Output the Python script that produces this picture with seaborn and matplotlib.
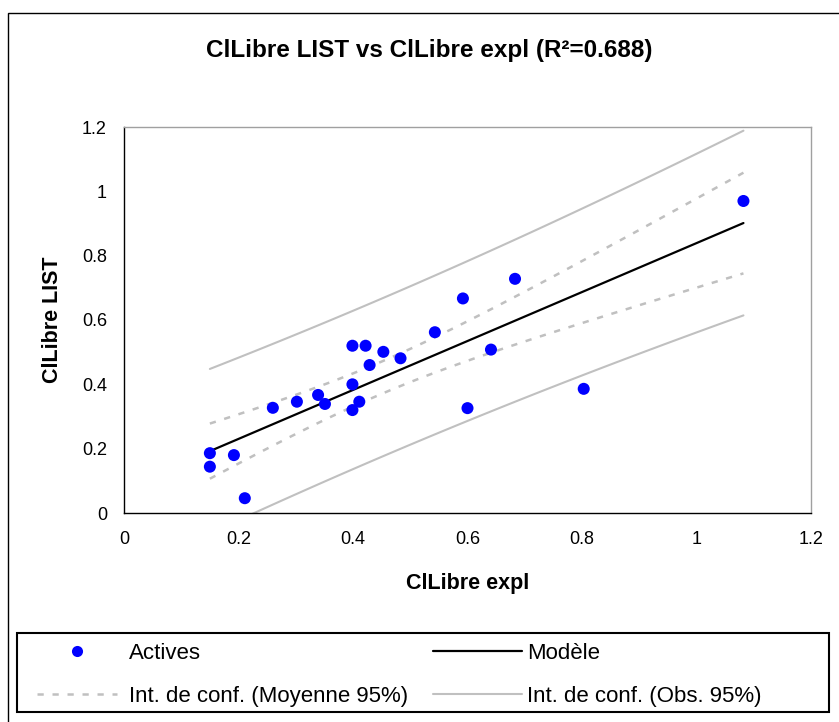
import numpy as np
import pandas as pd
import matplotlib
matplotlib.use("Agg")
import matplotlib.pyplot as plt
from matplotlib.lines import Line2D
from matplotlib.patches import Rectangle
import seaborn as sns

# ---- data ----
cl_expl = [0.150, 0.150, 0.192, 0.211, 0.260, 0.302, 0.339, 0.351, 0.399, 0.422,
           0.453, 0.429, 0.483, 0.399, 0.411, 0.399, 0.543, 0.592, 0.683, 0.641,
           0.600, 0.803, 1.082]
cl_list = [0.186, 0.144, 0.180, 0.046, 0.327, 0.346, 0.367, 0.339, 0.520, 0.520,
           0.501, 0.460, 0.481, 0.400, 0.346, 0.320, 0.562, 0.667, 0.728, 0.508,
           0.326, 0.386, 0.970]
tick_vals = [0, 0.2, 0.4, 0.6, 0.8, 1.0, 1.2]
tick_labels = ["0", "0.2", "0.4", "0.6", "0.8", "1", "1.2"]
title = "ClLibre LIST vs ClLibre expl (R²=0.688)"
xlabel = "ClLibre expl"
ylabel = "ClLibre LIST"
legend_labels = ["Actives", "Modèle", "Int. de conf. (Moyenne 95%)", "Int. de conf. (Obs. 95%)"]
t_crit = 2.0796  # Student t, 0.975, df=21

# ---- regression ----
x = np.array(cl_expl)
y = np.array(cl_list)
n = len(x)
b1, b0 = np.polyfit(x, y, 1)
resid = y - (b0 + b1 * x)
s = np.sqrt(np.sum(resid ** 2) / (n - 2))
sxx = np.sum((x - x.mean()) ** 2)
xg = np.linspace(x.min(), x.max(), 60)
yg = b0 + b1 * xg
se_mean = s * np.sqrt(1 / n + (xg - x.mean()) ** 2 / sxx)
se_obs = s * np.sqrt(1 + 1 / n + (xg - x.mean()) ** 2 / sxx)
fit = pd.DataFrame({"x": xg, "fit": yg,
                    "m_lo": yg - t_crit * se_mean, "m_hi": yg + t_crit * se_mean,
                    "o_lo": yg - t_crit * se_obs, "o_hi": yg + t_crit * se_obs})
pts = pd.DataFrame({"x": x, "y": y})

# ---- figure ----
sns.set_style("white")
plt.rcParams["font.family"] = ["Liberation Sans", "DejaVu Sans"]
plt.rcParams["text.color"] = "black"
plt.rcParams["axes.labelcolor"] = "black"
W, H = 839, 722
fig = plt.figure(figsize=(W / 100, H / 100), dpi=100)
ax = fig.add_axes([124 / W, 1 - 513 / H, 687 / W, 386 / H])

gray = "#c0c0c0"
dash = (0, (2.5, 3.5))
sns.lineplot(data=fit, x="x", y="o_hi", ax=ax, color=gray, lw=1.5, estimator=None)
sns.lineplot(data=fit, x="x", y="o_lo", ax=ax, color=gray, lw=1.5, estimator=None)
sns.lineplot(data=fit, x="x", y="m_hi", ax=ax, color=gray, lw=1.8, ls=dash, estimator=None)
sns.lineplot(data=fit, x="x", y="m_lo", ax=ax, color=gray, lw=1.8, ls=dash, estimator=None)
sns.lineplot(data=fit, x="x", y="fit", ax=ax, color="black", lw=1.6, estimator=None)
sns.scatterplot(data=pts, x="x", y="y", ax=ax, color="#0000ff", s=75, edgecolor="none", zorder=5)

ax.set_xlim(0, 1.2)
ax.set_ylim(0, 1.2)
ax.set_xticks(tick_vals)
ax.set_xticklabels(tick_labels)
ax.set_yticks(tick_vals)
ax.set_yticklabels(tick_labels)
ax.tick_params(axis="both", direction="inout", length=8.6, width=1, colors="black",
               labelsize=13)
ax.tick_params(axis="y", pad=8)
ax.tick_params(axis="x", pad=9)
for side in ["left", "bottom"]:
    ax.spines[side].set_color("black")
    ax.spines[side].set_linewidth(1.0)
for side in ["top", "right"]:
    ax.spines[side].set_color("#a0a0a0")
    ax.spines[side].set_linewidth(1.0)
ax.set_xlabel(xlabel, fontsize=15.5, fontweight="bold", color="black")
ax.set_ylabel(ylabel, fontsize=15.5, fontweight="bold", color="black")
ax.xaxis.set_label_coords(0.5, (513 - 583) / 386)
ax.xaxis.label.set_va("center")
ax.yaxis.set_label_coords((52 - 124) / 687, 0.5)
ax.yaxis.label.set_va("center")
ax.grid(False)

fig.text(429 / W, 1 - 50 / H, title, ha="center", va="center", fontsize=17.5,
         fontweight="bold", color="black")

# outer frame
fig.patches.append(Rectangle((8 / W, -0.01), 1.0, 1 - 13 / H + 0.01, transform=fig.transFigure,
                             fill=False, edgecolor="black", lw=1.0))
# legend frame
fig.patches.append(Rectangle((17 / W, 1 - 712 / H), 812 / W, 79 / H, transform=fig.transFigure,
                             fill=False, edgecolor="black", lw=1.5))

h_act = Line2D([], [], ls="none", marker="o", color="#0000ff", markersize=8, markeredgewidth=0)
h_mod = Line2D([], [], color="black", lw=1.6)
h_moy = Line2D([], [], color=gray, lw=1.8, ls=dash)
h_obs = Line2D([], [], color=gray, lw=1.5)

fs = 16
em = fs * 100 / 72  # px
common = dict(frameon=False, fontsize=fs, borderpad=0, borderaxespad=0,
              labelspacing=1.0, loc="center left", labelcolor="black")
leg1 = fig.legend([h_act, h_moy], [legend_labels[0], legend_labels[2]],
                  bbox_to_anchor=(37 / W, 1 - 675 / H), handlelength=80 / em,
                  handletextpad=12 / em, **common)
leg2 = fig.legend([h_mod, h_obs], [legend_labels[1], legend_labels[3]],
                  bbox_to_anchor=(433 / W, 1 - 675 / H), handlelength=89 / em,
                  handletextpad=5 / em, **common)

fig.savefig("out.png", dpi=100)
